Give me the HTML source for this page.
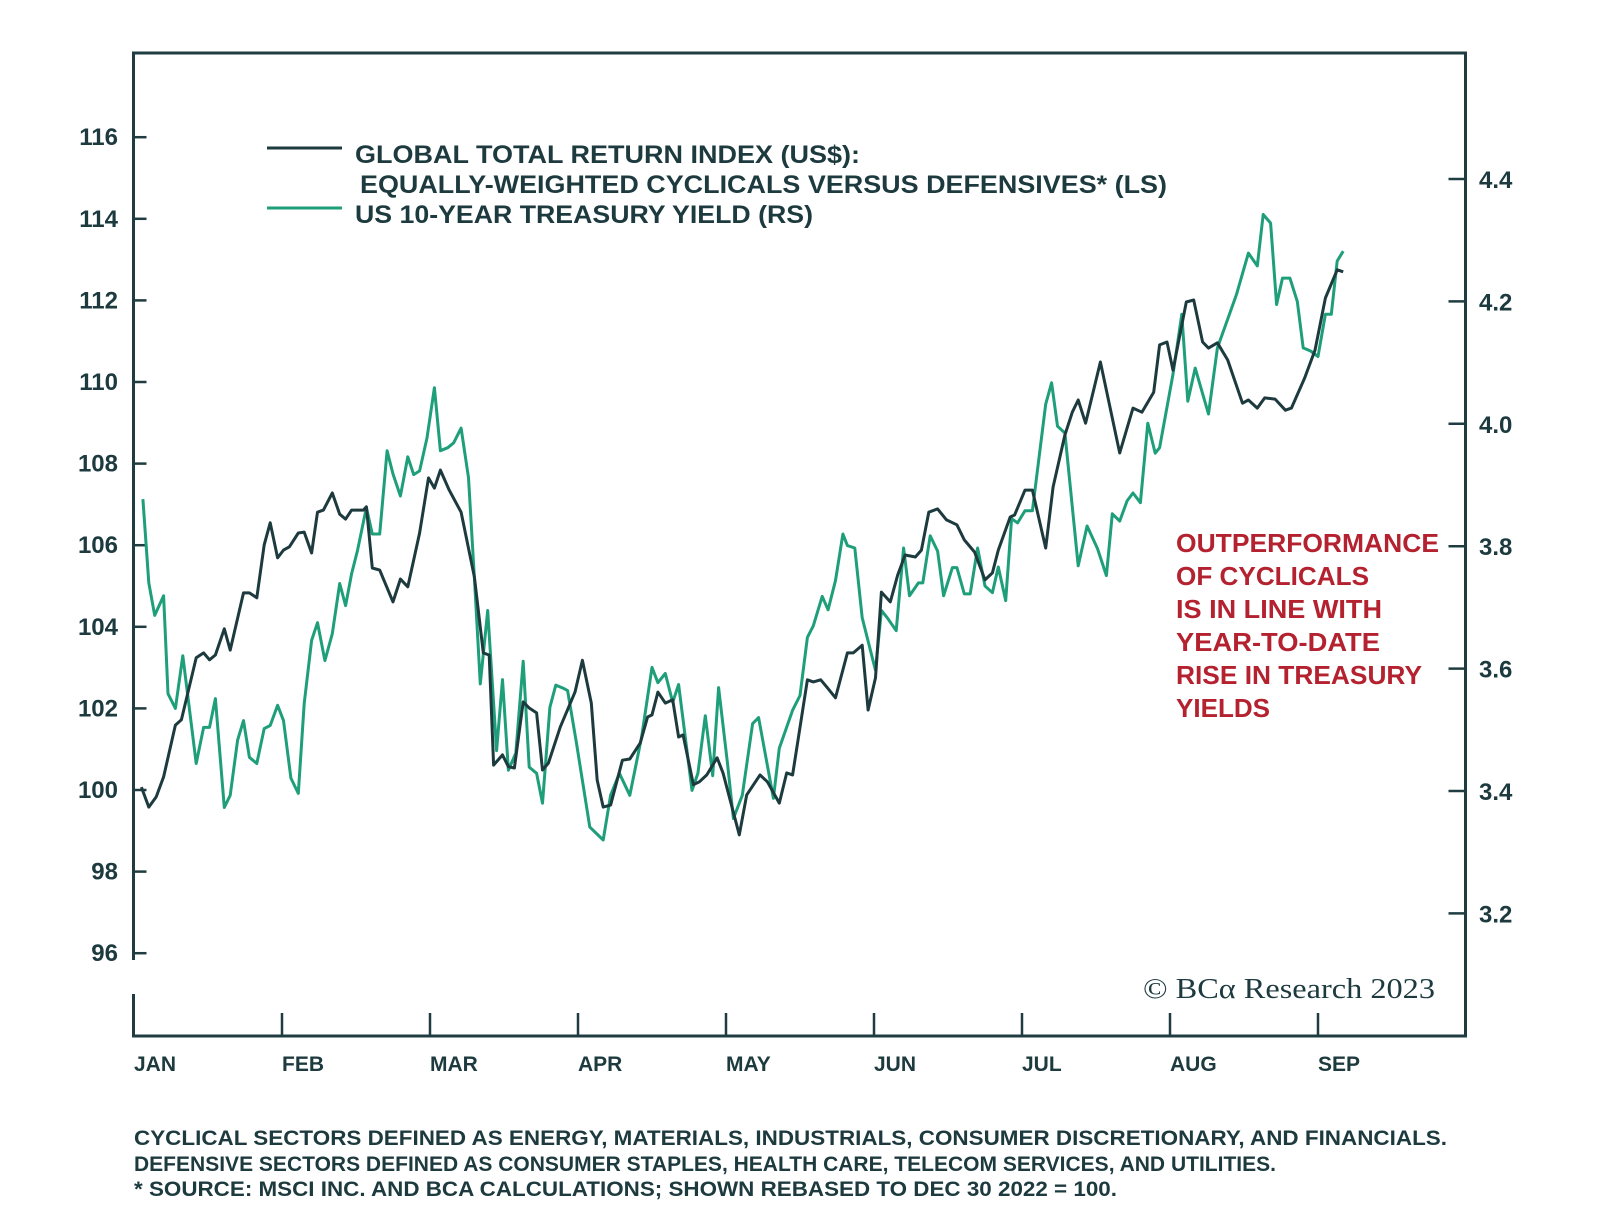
<!DOCTYPE html>
<html><head><meta charset="utf-8"><style>
html,body{margin:0;padding:0;background:#fff;}
svg{display:block;}
text{font-family:"Liberation Sans",sans-serif;font-weight:bold;}
</style></head><body>
<svg id="chart" width="1600" height="1218" viewBox="0 0 1600 1218" xmlns="http://www.w3.org/2000/svg">
<rect width="1600" height="1218" fill="#fff"/>
<g id="axes"></g>
<g id="series"></g>
<g>
<line x1="267" y1="148" x2="342" y2="148" stroke="#1d3a3e" stroke-width="3"/>
<line x1="267" y1="208" x2="342" y2="208" stroke="#1f9e7a" stroke-width="3"/>
<text x="355" y="163" font-size="25" fill="#1d3a3e" textLength="505" lengthAdjust="spacingAndGlyphs">GLOBAL TOTAL RETURN INDEX (US$):</text>
<text x="360" y="193" font-size="25" fill="#1d3a3e" textLength="807" lengthAdjust="spacingAndGlyphs">EQUALLY-WEIGHTED CYCLICALS VERSUS DEFENSIVES* (LS)</text>
<text x="355" y="223" font-size="25" fill="#1d3a3e" textLength="458" lengthAdjust="spacingAndGlyphs">US 10-YEAR TREASURY YIELD (RS)</text>
</g>
<g fill="#b4212f" font-size="26">
<text x="1176" y="552" textLength="263" lengthAdjust="spacingAndGlyphs">OUTPERFORMANCE</text>
<text x="1176" y="585" textLength="193" lengthAdjust="spacingAndGlyphs">OF CYCLICALS</text>
<text x="1176" y="618" textLength="206" lengthAdjust="spacingAndGlyphs">IS IN LINE WITH</text>
<text x="1176" y="651" textLength="204" lengthAdjust="spacingAndGlyphs">YEAR-TO-DATE</text>
<text x="1176" y="684" textLength="246" lengthAdjust="spacingAndGlyphs">RISE IN TREASURY</text>
<text x="1176" y="717" textLength="94" lengthAdjust="spacingAndGlyphs">YIELDS</text>
</g>
<text x="1143" y="998" font-size="29" fill="#1d3a3e" style="font-family:'Liberation Serif',serif;font-weight:normal" textLength="292" lengthAdjust="spacingAndGlyphs">© BCα Research 2023</text>
<g fill="#1d3a3e" font-size="21">
<text x="134" y="1145" textLength="1313" lengthAdjust="spacingAndGlyphs">CYCLICAL SECTORS DEFINED AS ENERGY, MATERIALS, INDUSTRIALS, CONSUMER DISCRETIONARY, AND FINANCIALS.</text>
<text x="134" y="1171" textLength="1142" lengthAdjust="spacingAndGlyphs">DEFENSIVE SECTORS DEFINED AS CONSUMER STAPLES, HEALTH CARE, TELECOM SERVICES, AND UTILITIES.</text>
<text x="134" y="1196" textLength="983" lengthAdjust="spacingAndGlyphs">* SOURCE: MSCI INC. AND BCA CALCULATIONS; SHOWN REBASED TO DEC 30 2022 = 100.</text>
</g>
</svg>
<script>
const monthLabels=["JAN","FEB","MAR","APR","MAY","JUN","JUL","AUG","SEP"];
const leftTicks=[96,98,100,102,104,106,108,110,112,114,116];
const rightTicks=[3.2,3.4,3.6,3.8,4.0,4.2,4.4];
const cycT=[0.05,0.10,0.15,0.20,0.28,0.32,0.42,0.47,0.51,0.55,0.61,0.65,0.74,0.78,0.83,0.88,0.92,0.97,1.01,1.05,1.11,1.15,1.20,1.24,1.28,1.34,1.39,1.43,1.47,1.55,1.57,1.61,1.66,1.75,1.80,1.85,1.93,1.99,2.03,2.07,2.13,2.21,2.30,2.36,2.40,2.43,2.49,2.53,2.57,2.63,2.67,2.72,2.76,2.80,2.88,2.98,3.03,3.09,3.13,3.17,3.22,3.30,3.35,3.42,3.47,3.50,3.54,3.59,3.64,3.68,3.71,3.78,3.82,3.87,3.94,3.98,4.09,4.14,4.23,4.28,4.36,4.41,4.45,4.55,4.59,4.64,4.68,4.74,4.82,4.86,4.92,4.96,5.01,5.05,5.11,5.16,5.21,5.28,5.32,5.37,5.43,5.49,5.56,5.61,5.68,5.75,5.80,5.84,5.92,5.95,6.02,6.07,6.16,6.21,6.29,6.34,6.38,6.43,6.53,6.66,6.75,6.81,6.89,6.93,6.98,7.02,7.11,7.16,7.22,7.26,7.32,7.39,7.49,7.53,7.59,7.64,7.71,7.78,7.82,7.91,7.98,8.05,8.13,8.17];
const cycV=[100.07,99.58,99.83,100.32,101.59,101.72,103.24,103.36,103.19,103.31,103.95,103.43,104.83,104.83,104.71,106.01,106.55,105.69,105.88,105.96,106.30,106.32,105.81,106.81,106.86,107.28,106.76,106.64,106.86,106.86,106.94,105.44,105.39,104.61,105.17,104.98,106.30,107.65,107.40,107.84,107.35,106.81,105.22,103.36,103.31,100.61,100.86,100.57,100.54,102.16,102.01,101.89,100.49,100.66,101.54,102.40,103.18,102.13,100.24,99.58,99.63,100.73,100.76,101.15,101.79,101.84,102.40,102.13,102.21,101.30,101.35,100.13,100.20,100.37,100.79,100.42,98.90,99.88,100.37,100.20,99.68,100.42,100.37,102.70,102.65,102.70,102.53,102.26,103.36,103.36,103.55,101.96,102.75,104.85,104.61,105.27,105.76,105.71,105.88,106.81,106.89,106.62,106.50,106.13,105.83,105.15,105.32,105.88,106.69,106.74,107.35,107.35,105.93,107.43,108.70,109.26,109.56,108.99,110.49,108.26,109.36,109.26,109.75,110.91,110.98,110.29,111.96,112.01,110.98,110.83,110.96,110.54,109.48,109.56,109.36,109.61,109.58,109.31,109.36,110.10,110.78,112.06,112.75,112.70];
const yldT=[0.06,0.10,0.14,0.20,0.23,0.28,0.33,0.42,0.47,0.51,0.55,0.61,0.65,0.70,0.74,0.78,0.83,0.88,0.92,0.97,1.01,1.06,1.11,1.15,1.20,1.24,1.29,1.34,1.39,1.43,1.47,1.51,1.57,1.61,1.66,1.71,1.75,1.80,1.85,1.89,1.93,1.98,2.03,2.07,2.12,2.16,2.21,2.26,2.30,2.34,2.39,2.45,2.49,2.53,2.58,2.63,2.67,2.72,2.76,2.81,2.85,2.90,2.93,2.99,3.08,3.17,3.22,3.28,3.35,3.43,3.50,3.54,3.59,3.64,3.68,3.77,3.81,3.86,3.91,3.95,4.01,4.05,4.11,4.18,4.22,4.32,4.36,4.45,4.50,4.55,4.59,4.65,4.69,4.74,4.79,4.82,4.87,4.92,5.01,5.05,5.09,5.15,5.20,5.24,5.30,5.33,5.38,5.43,5.47,5.53,5.56,5.61,5.65,5.70,5.75,5.80,5.84,5.89,5.93,5.97,6.02,6.07,6.16,6.20,6.24,6.29,6.38,6.44,6.51,6.57,6.61,6.66,6.71,6.75,6.80,6.85,6.90,6.93,7.02,7.08,7.12,7.17,7.26,7.32,7.39,7.45,7.53,7.59,7.63,7.68,7.72,7.76,7.81,7.86,7.90,7.95,8.00,8.05,8.09,8.13,8.17];
const yldV=[3.877,3.740,3.687,3.719,3.559,3.535,3.621,3.445,3.504,3.504,3.551,3.373,3.393,3.483,3.515,3.455,3.445,3.502,3.507,3.540,3.515,3.421,3.396,3.543,3.646,3.675,3.613,3.657,3.739,3.703,3.755,3.793,3.863,3.820,3.820,3.956,3.918,3.882,3.946,3.917,3.923,3.977,4.059,3.956,3.961,3.969,3.993,3.912,3.748,3.575,3.695,3.466,3.582,3.434,3.462,3.612,3.439,3.429,3.380,3.537,3.573,3.568,3.564,3.478,3.341,3.320,3.393,3.429,3.393,3.488,3.602,3.577,3.592,3.545,3.574,3.401,3.429,3.523,3.425,3.569,3.445,3.355,3.393,3.510,3.520,3.388,3.470,3.532,3.556,3.651,3.670,3.718,3.696,3.744,3.820,3.801,3.797,3.683,3.597,3.695,3.683,3.662,3.797,3.719,3.740,3.740,3.817,3.792,3.719,3.765,3.765,3.722,3.722,3.797,3.735,3.724,3.766,3.711,3.845,3.838,3.858,3.858,4.032,4.067,3.996,3.985,3.768,3.833,3.796,3.752,3.853,3.841,3.874,3.887,3.871,4.001,3.952,3.961,4.081,4.179,4.037,4.091,4.016,4.124,4.171,4.212,4.279,4.258,4.342,4.328,4.195,4.238,4.238,4.200,4.124,4.119,4.110,4.179,4.179,4.266,4.282];

const NS="http://www.w3.org/2000/svg";
const X0=134,MW=148,FT=53,FB=1036,FL=133.5,FR=1465.5;
function xS(t){return X0+t*MW;}
function yL(v){return 137.2+(116-v)*40.8;}
function yR(r){return 179+(4.4-r)*612;}
function mk(tag,parent,attrs){const e=document.createElementNS(NS,tag);for(const k in attrs)e.setAttribute(k,attrs[k]);parent.appendChild(e);return e;}
const axes=document.getElementById('axes');
const series=document.getElementById('series');
const AX="#1f3d40";
let fr=mk('rect',axes,{x:FL,y:FT,width:FR-FL,height:FB-FT,fill:'none',stroke:AX,'stroke-width':3});


let gap=mk('rect',axes,{x:FL-3,y:960,width:6,height:34,fill:'#fff'});


leftTicks.forEach(v=>{
  const y=yL(v);
  let t=mk('line',axes,{x1:FL,y1:y,x2:FL+13,y2:y,stroke:AX,'stroke-width':2.5});
  
  
  let l=mk('text',axes,{x:118,y:y+8,'text-anchor':'end','font-size':24,fill:'#1d3a3e'});
  l.textContent=String(v);
  
  
});
rightTicks.forEach(r=>{
  const y=yR(r);
  let t=mk('line',axes,{x1:FR-17,y1:y,x2:FR,y2:y,stroke:AX,'stroke-width':2.5});
  
  
  let l=mk('text',axes,{x:1479,y:y+9,'font-size':24,fill:'#1d3a3e'});
  l.textContent=r.toFixed(1);
  
  
});
monthLabels.forEach((m,i)=>{
  const x=xS(i);
  if(i>0){
    let t=mk('line',axes,{x1:x,y1:FB-23,x2:x,y2:FB,stroke:AX,'stroke-width':2.5});
    
    
  }
  let l=mk('text',axes,{x:x,y:1071,'font-size':21,fill:'#1d3a3e'});
  l.textContent=m;
  
  
});
function path(ts,vs,yf){return ts.map((t,i)=>(i?'L':'M')+xS(t).toFixed(1)+','+yf(vs[i]).toFixed(1)).join(' ');}
let py=mk('path',series,{d:path(yldT,yldV,yR),fill:'none',stroke:'#1f9e7a','stroke-width':3,'stroke-linejoin':'round'});


let pc=mk('path',series,{d:path(cycT,cycV,yL),fill:'none',stroke:'#1d3a3e','stroke-width':3,'stroke-linejoin':'round'});


</script>
</body></html>
